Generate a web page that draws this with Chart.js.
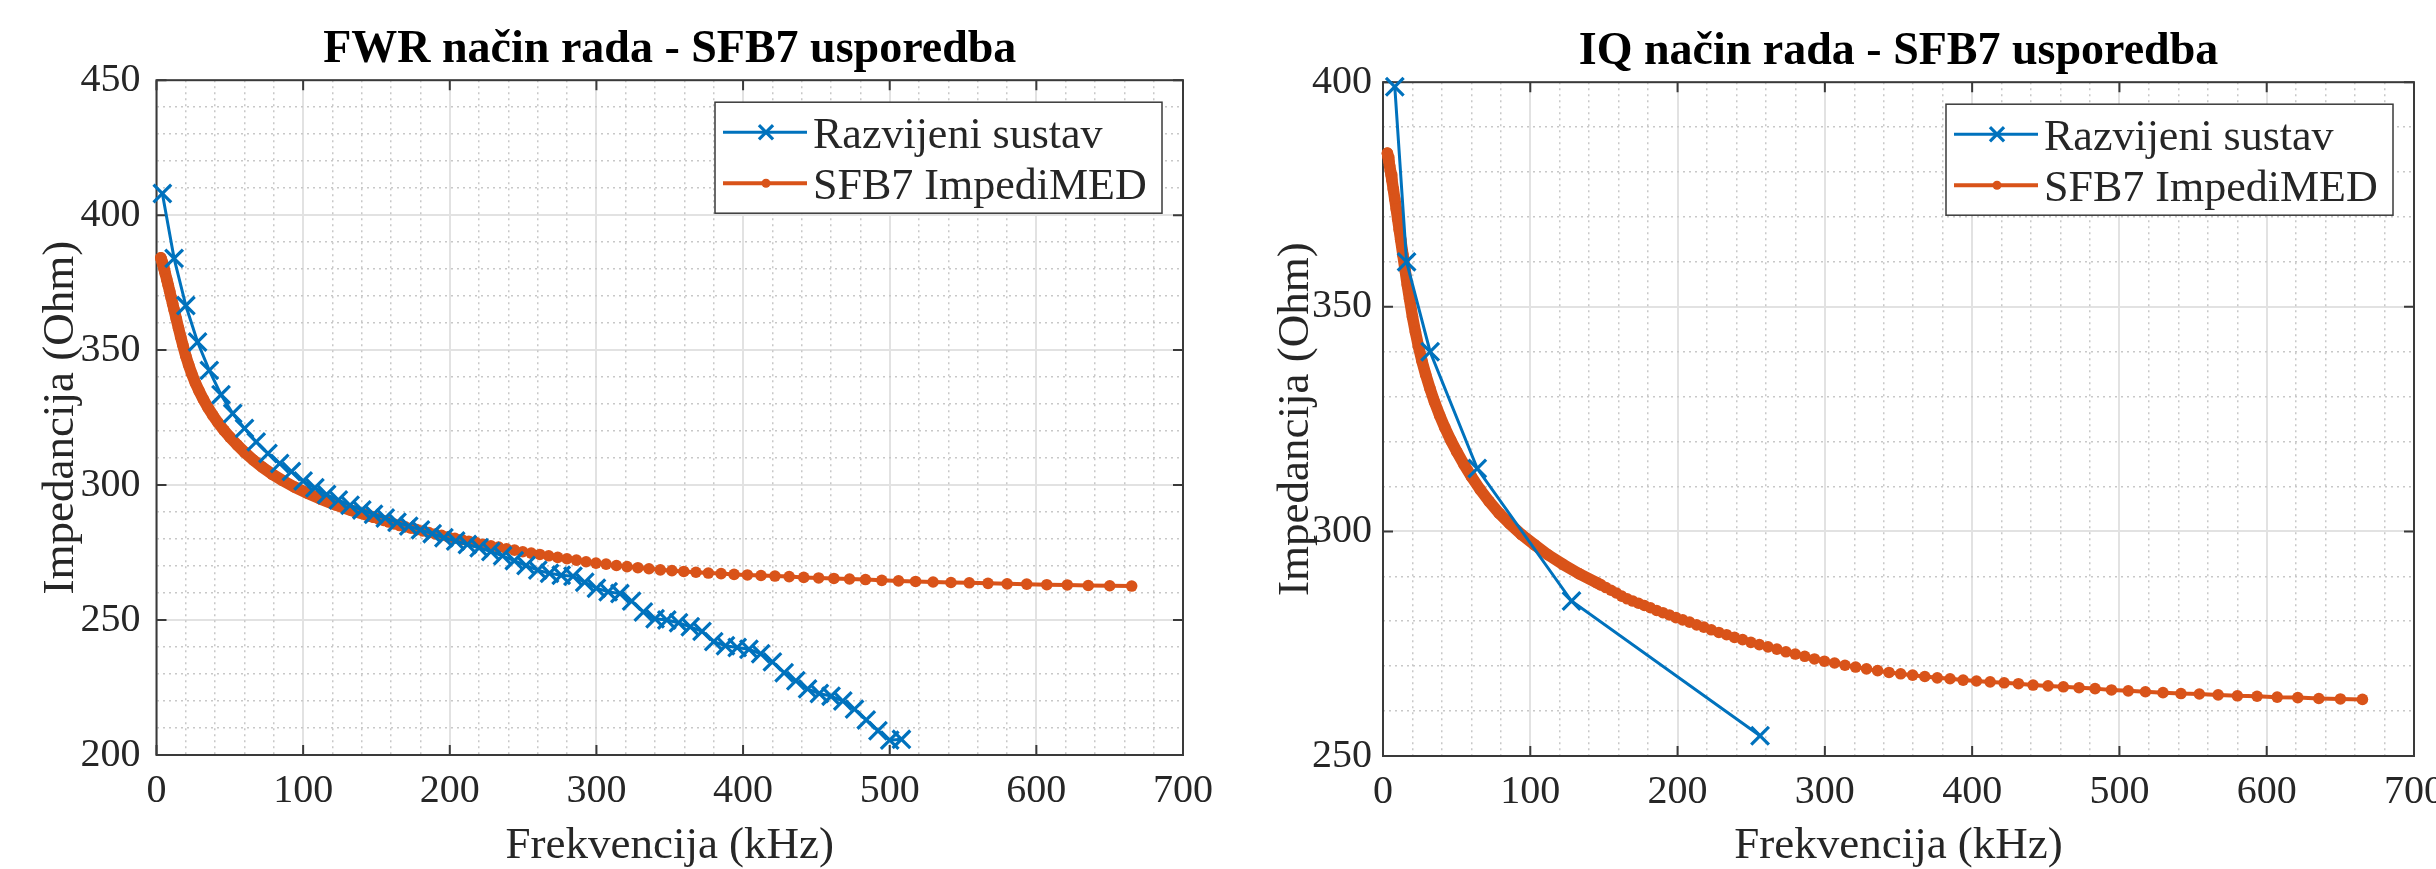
<!DOCTYPE html>
<html>
<head>
<meta charset="utf-8">
<script src="https://cdn.jsdelivr.net/npm/chart.js@4.4.1/dist/chart.umd.min.js"></script>
<style>
  html, body { margin: 0; padding: 0; background: #fff; }
  body { width: 2436px; height: 869px; position: relative; overflow: hidden; }
  .panel { position: absolute; top: 0; height: 869px; }
  #panelFwr { left: 0; width: 1230px; }
  #panelIq { left: 1230px; width: 1206px; }
</style>
</head>
<body>
<div class="panel" id="panelFwr"><canvas id="chartFwr"></canvas></div>
<div class="panel" id="panelIq"><canvas id="chartIq"></canvas></div>
<script>
// axis ticks
const freqTicks = [0, 100, 200, 300, 400, 500, 600, 700];
const fwrImpTicks = [200, 250, 300, 350, 400, 450];
const iqImpTicks = [250, 300, 350, 400];

// FWR mode - developed system (kHz / Ohm)
const fwrFreq = [4, 12, 20, 28, 36, 44, 52, 60, 68, 76, 84, 92, 100, 108, 116, 124,
  132, 140, 148, 156, 164, 172, 180, 188, 196, 204, 212, 220, 228, 236, 244, 252,
  260, 268, 276, 284, 292, 300, 308, 316, 324, 332, 340, 348, 356, 364, 372, 380,
  388, 396, 404, 412, 420, 428, 436, 444, 452, 460, 468, 476, 484, 492, 500, 508];
const fwrImpedance = [408, 384, 366.5, 353, 342.5, 333.5, 326.5, 321, 316, 311.7, 308, 305, 301.5, 299, 296.5, 294.5,
  292.5, 290.8, 289.2, 287.8, 286.2, 284.8, 283.4, 282, 280.5, 279.3, 278, 276.8, 275.4, 273.8, 272, 270.2,
  268.5, 267.3, 266.6, 266.2, 264, 261.8, 260.5, 259.8, 257, 253, 250.5, 250, 249, 247.5, 245.8, 242,
  240.5, 239.8, 239.2, 237.5, 234.5, 230.5, 227.5, 224.5, 222.8, 221.8, 220, 217, 213, 209, 205.5, 205.8];

// IQ mode - developed system
const iqFreq = [8, 16, 32, 64, 128, 256];
const iqImpedance = [399, 360, 340, 314, 284.5, 254.5];

// SFB7 ImpediMED reference
const sfb7Freq = [3, 3.5, 4, 4.5, 5, 5.5, 6, 7, 8, 9, 10, 11, 12, 13.5, 15, 16.5, 18, 20, 22, 24,
  26.5, 29, 32, 35, 38.5, 42, 46, 50, 55, 60, 66, 72, 79, 86, 94, 103, 112, 122, 133, 145,
  147.93, 151.34, 154.83, 158.39, 162.04, 165.77, 169.59, 173.5, 177.49, 181.58, 185.77, 190.05,
  194.42, 198.9, 203.48, 208.17, 212.97, 217.87, 222.89, 228.03, 233.28, 238.65, 244.15, 249.77,
  255.52, 261.41, 267.43, 273.59, 279.89, 286.34, 292.94, 299.69, 306.59, 313.65, 320.88, 328.27,
  335.83, 343.57, 351.48, 359.58, 367.86, 376.33, 385, 393.87, 402.94, 412.22, 421.72, 431.43,
  441.37, 451.54, 461.94, 472.58, 483.46, 494.6, 505.99, 517.65, 529.57, 541.77, 554.25, 567.02,
  580.08, 593.44, 607.11, 621.09, 635.39, 650.03, 665];
const sfb7Impedance = [384.2, 383.3, 382.4, 381.4, 380.4, 379.4, 378.3, 376.2, 374, 371.8, 369.5, 367.2, 365, 361.6, 358.2, 354.9, 351.8, 347.8, 344.4, 341.3,
  337.9, 334.9, 331.7, 328.8, 325.8, 323.1, 320.3, 317.8, 314.9, 312.2, 309.3, 306.7, 304, 301.7, 299.3, 297, 294.8, 292.7, 290.6, 288.6,
  288.1, 287.5, 286.9, 286.3, 285.6, 285, 284.5, 284, 283.5, 283, 282.4, 281.9,
  281.4, 280.8, 280.3, 279.8, 279.2, 278.7, 278.1, 277.5, 277, 276.4, 275.9, 275.3,
  274.8, 274.3, 273.8, 273.2, 272.7, 272.2, 271.6, 271.1, 270.7, 270.2, 269.8, 269.4,
  269, 268.6, 268.3, 268, 267.7, 267.4, 267.2, 266.9, 266.7, 266.5, 266.3, 266.1,
  265.8, 265.6, 265.4, 265.2, 265, 264.7, 264.5, 264.3, 264.1, 263.9, 263.8, 263.6,
  263.4, 263.3, 263.1, 263, 262.8, 262.7, 262.6];

const BLUE = '#0072BD';
const ORANGE = '#D95319';
const TEXT = '#262626';
const SERIF = '"Liberation Serif", "Times New Roman", serif';

Chart.defaults.font.family = SERIF;
Chart.defaults.color = TEXT;

function toPoints(xs, ys) {
    return xs.map((x, i) => ({ x: x, y: ys[i] }));
}

function fixedTicks(values) {
    return scale => { scale.ticks = values.map(v => ({ value: v })); };
}

function minorTicks(min, max, step) {
    return scale => {
        const t = [];
        for (let v = min; v <= max + 1e-9; v += step) t.push({ value: v });
        scale.ticks = t;
    };
}

// box round the plot with inward tick marks on all four sides
const axisBox = {
    id: 'axisBox',
    beforeDatasetsDraw(chart) {
        const { ctx, chartArea: a, scales } = chart;
        ctx.save();
        ctx.strokeStyle = '#3a3a3a';
        ctx.lineWidth = 2;
        ctx.strokeRect(a.left, a.top, a.right - a.left, a.bottom - a.top);
        ctx.beginPath();
        scales.x.ticks.forEach(t => {
            const px = scales.x.getPixelForValue(t.value);
            ctx.moveTo(px, a.bottom); ctx.lineTo(px, a.bottom - 10);
            ctx.moveTo(px, a.top); ctx.lineTo(px, a.top + 10);
        });
        scales.y.ticks.forEach(t => {
            const py = scales.y.getPixelForValue(t.value);
            ctx.moveTo(a.left, py); ctx.lineTo(a.left + 10, py);
            ctx.moveTo(a.right, py); ctx.lineTo(a.right - 10, py);
        });
        ctx.stroke();
        ctx.restore();
    }
};

// MATLAB style legend box in the top right corner
const boxLegend = {
    id: 'boxLegend',
    afterDraw(chart) {
        const { ctx, chartArea } = chart;
        const w = 447, h = 111;
        const x0 = chartArea.right - 21 - w;
        const y0 = chartArea.top + 22;
        ctx.save();
        ctx.fillStyle = '#fff';
        ctx.fillRect(x0, y0, w, h);
        ctx.strokeStyle = '#3a3a3a';
        ctx.lineWidth = 1.5;
        ctx.strokeRect(x0, y0, w, h);
        chart.data.datasets.forEach((ds, i) => {
            const cy = y0 + 30 + i * 51;
            ctx.strokeStyle = ds.borderColor;
            ctx.fillStyle = ds.borderColor;
            ctx.lineWidth = ds.borderWidth;
            ctx.beginPath();
            ctx.moveTo(x0 + 8, cy);
            ctx.lineTo(x0 + 92, cy);
            ctx.stroke();
            ctx.lineWidth = ds.pointBorderWidth || 1;
            Chart.helpers.drawPoint(ctx, {
                pointStyle: ds.pointStyle,
                radius: ds.pointStyle === 'circle' ? 4.5 : 10,
                borderWidth: ds.pointBorderWidth,
                rotation: 0
            }, x0 + 51, cy);
            ctx.fillStyle = TEXT;
            ctx.font = '44px ' + SERIF;
            ctx.textBaseline = 'middle';
            ctx.textAlign = 'left';
            ctx.fillText(ds.label, x0 + 98, cy + 4);
        });
        ctx.restore();
    }
};

function createImpedanceChart(canvasId, cfg) {
    return new Chart(document.getElementById(canvasId), {
        type: 'line',
        data: {
            datasets: [
                {
                    label: 'Razvijeni sustav',
                    data: toPoints(cfg.devFreq, cfg.devImp),
                    xAxisID: 'x', yAxisID: 'y',
                    borderColor: BLUE, backgroundColor: BLUE,
                    borderWidth: 3,
                    pointStyle: 'crossRot', pointRadius: 12.5, pointBorderWidth: 3.2,
                    tension: 0, clip: 16
                },
                {
                    label: 'SFB7 ImpediMED',
                    data: toPoints(sfb7Freq, sfb7Impedance),
                    xAxisID: 'x', yAxisID: 'y',
                    borderColor: ORANGE, backgroundColor: ORANGE,
                    borderWidth: 4,
                    borderCapStyle: 'round', borderJoinStyle: 'round',
                    pointStyle: 'circle', pointRadius: 5.8, pointBorderWidth: 0,
                    tension: 0, clip: 16,
                    // dots merge into a thick band where they are densely packed
                    segment: { borderWidth: c => c.p1.parsed.x < 150 ? 11.5 : undefined }
                }
            ]
        },
        options: {
            animation: false,
            responsive: true,
            maintainAspectRatio: false,
            events: [],
            layout: { padding: { top: cfg.padTop, right: cfg.padRight, left: 0, bottom: 0 } },
            plugins: {
                legend: { display: false },
                tooltip: { enabled: false },
                title: {
                    display: true, text: cfg.title, fullSize: false, color: '#000',
                    font: { size: 46, weight: 'bold', lineHeight: 1.2 },
                    padding: { top: 0, bottom: 2 }
                }
            },
            scales: {
                x: {
                    type: 'linear', position: 'bottom',
                    min: freqTicks[0], max: freqTicks[freqTicks.length - 1],
                    afterBuildTicks: fixedTicks(freqTicks),
                    ticks: { font: { size: 40 }, color: TEXT, padding: 12, autoSkip: false, maxRotation: 0 },
                    grid: { color: '#e2e2e2', lineWidth: 2, drawTicks: false },
                    border: { display: false },
                    title: { display: true, text: 'Frekvencija (kHz)', color: TEXT, font: { size: 45, lineHeight: 1 }, padding: 0 },
                    afterFit: s => { s.height = cfg.xHeight; s.paddingLeft = 0; s.paddingRight = 0; }
                },
                y: {
                    type: 'linear', position: 'left',
                    min: cfg.yTicks[0], max: cfg.yTicks[cfg.yTicks.length - 1],
                    afterBuildTicks: fixedTicks(cfg.yTicks),
                    ticks: { font: { size: 40 }, color: TEXT, padding: cfg.yTickPad, autoSkip: false },
                    grid: { color: '#e2e2e2', lineWidth: 2, drawTicks: false },
                    border: { display: false },
                    title: { display: true, text: 'Impedancija (Ohm)', color: TEXT, font: { size: 45, lineHeight: 1 }, padding: { top: cfg.yTitlePad } },
                    afterFit: s => { s.width = cfg.yWidth; s.paddingTop = 0; s.paddingBottom = 0; }
                },
                xMinor: {
                    type: 'linear', position: 'bottom',
                    min: freqTicks[0], max: freqTicks[freqTicks.length - 1],
                    afterBuildTicks: minorTicks(0, 700, 20),
                    ticks: { display: false },
                    grid: { color: c => c.tick.value % 100 === 0 ? 'rgba(0,0,0,0)' : '#c8c8c8', lineWidth: 1.5, drawTicks: false },
                    border: { display: false, dash: [2, 4] },
                    afterFit: s => { s.height = 0; s.paddingLeft = 0; s.paddingRight = 0; }
                },
                yMinor: {
                    type: 'linear', position: 'left',
                    min: cfg.yTicks[0], max: cfg.yTicks[cfg.yTicks.length - 1],
                    afterBuildTicks: minorTicks(cfg.yTicks[0], cfg.yTicks[cfg.yTicks.length - 1], 10),
                    ticks: { display: false },
                    grid: { color: c => c.tick.value % 50 === 0 ? 'rgba(0,0,0,0)' : '#c8c8c8', lineWidth: 1.5, drawTicks: false },
                    border: { display: false, dash: [2, 4] },
                    afterFit: s => { s.width = 0; s.paddingTop = 0; s.paddingBottom = 0; }
                }
            }
        },
        plugins: [axisBox, boxLegend]
    });
}

const chartFwr = createImpedanceChart('chartFwr', {
    title: 'FWR način rada - SFB7 usporedba',
    devFreq: fwrFreq, devImp: fwrImpedance, yTicks: fwrImpTicks,
    padTop: 23, padRight: 47, yWidth: 156.5, xHeight: 114, yTitlePad: 39, yTickPad: 16
});

const chartIq = createImpedanceChart('chartIq', {
    title: 'IQ način rada - SFB7 usporedba',
    devFreq: iqFreq, devImp: iqImpedance, yTicks: iqImpTicks,
    padTop: 25, padRight: 22, yWidth: 153, xHeight: 113, yTitlePad: 44, yTickPad: 11
});
</script>
</body>
</html>
